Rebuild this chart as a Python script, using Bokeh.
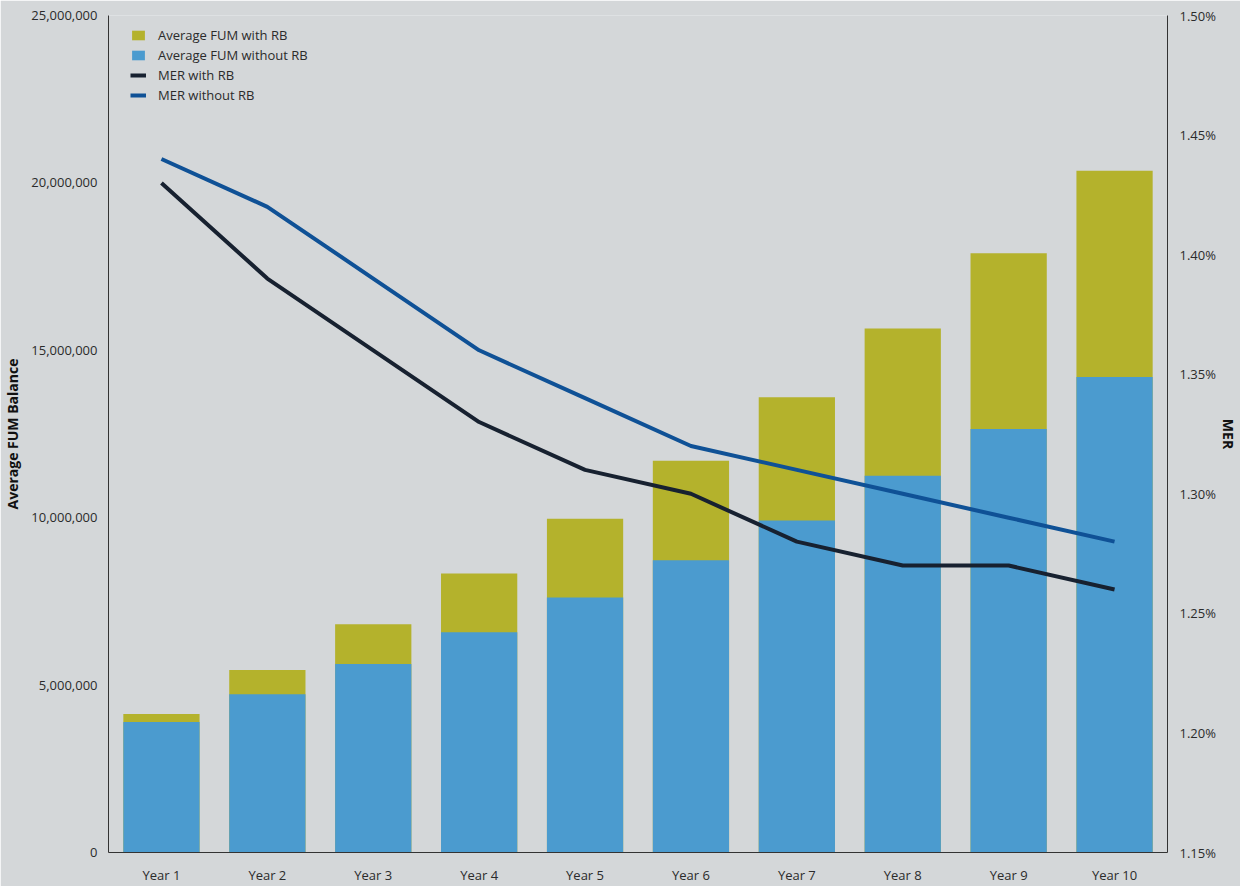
from bokeh.plotting import figure
from bokeh.models import (FactorRange, Range1d, LinearAxis, FixedTicker,
                          NumeralTickFormatter, CustomJSTickFormatter, Legend, LegendItem)
from bokeh.embed import file_html
from bokeh.resources import INLINE

years = ["Year 1", "Year 2", "Year 3", "Year 4", "Year 5",
         "Year 6", "Year 7", "Year 8", "Year 9", "Year 10"]
fum_with_rb = [4140000, 5450000, 6820000, 8330000, 9970000,
               11700000, 13600000, 15650000, 17900000, 20360000]
fum_without_rb = [3900000, 4730000, 5630000, 6580000, 7620000,
                  8730000, 9920000, 11250000, 12650000, 14200000]
mer_with_rb = [1.43, 1.39, 1.36, 1.33, 1.31, 1.30, 1.28, 1.27, 1.27, 1.26]
mer_without_rb = [1.44, 1.42, 1.39, 1.36, 1.34, 1.32, 1.31, 1.30, 1.29, 1.28]
left_ticks = [0, 5000000, 10000000, 15000000, 20000000, 25000000]
right_ticks = [1.15, 1.20, 1.25, 1.30, 1.35, 1.40, 1.45, 1.50]

BG = "#d4d7d9"
YELLOW = "#b4b22c"
BLUE = "#4b9bcf"
LINE_DARK = "#172130"
LINE_BLUE = "#0f5196"
FONT = "Open Sans"
TXT = "#2b2b2b"

p = figure(width=1240, height=886, x_range=FactorRange(*years, range_padding=0),
           y_range=Range1d(0, 25000000), output_backend="svg", toolbar_location=None,
           min_border_left=108, min_border_right=73, min_border_top=15, min_border_bottom=31)
p.background_fill_color = BG
p.border_fill_color = BG
p.outline_line_color = None
p.xgrid.grid_line_color = None
p.ygrid.grid_line_color = None

p.extra_y_ranges = {"mer": Range1d(1.15, 1.50)}

r_y = p.vbar(x=years, top=fum_with_rb, width=0.72, color=YELLOW, line_color=None)
r_b = p.vbar(x=years, top=fum_without_rb, width=0.72, color=BLUE, line_color=None)
r_l1 = p.line(x=years, y=mer_with_rb, y_range_name="mer", line_color=LINE_DARK, line_width=4)
r_l2 = p.line(x=years, y=mer_without_rb, y_range_name="mer", line_color=LINE_BLUE, line_width=4)

# left axis
ya = p.yaxis[0]
ya.ticker = FixedTicker(ticks=left_ticks)
ya.formatter = NumeralTickFormatter(format="0,0")
ya.axis_label = "Average FUM Balance"

# right axis
ra = LinearAxis(y_range_name="mer", ticker=FixedTicker(ticks=right_ticks),
                formatter=CustomJSTickFormatter(code="return tick.toFixed(2) + '%';"),
                axis_label="MER")
p.add_layout(ra, "right")

for ax in [ya, ra, p.xaxis[0]]:
    ax.major_tick_line_color = None
    ax.minor_tick_line_color = None
    ax.axis_line_color = "#333333"
    ax.axis_line_width = 1
    ax.major_label_text_font = FONT
    ax.major_label_text_font_size = "13px"
    ax.major_label_text_color = TXT
    ax.axis_label_text_font = FONT
    ax.axis_label_text_font_style = "bold"
    ax.axis_label_text_font_size = "14px"
    ax.axis_label_text_color = "#111111"
ya.major_label_standoff = 5
ya.axis_label_standoff = 6
ra.major_label_standoff = 6
ra.axis_label_standoff = 0
p.xaxis[0].major_label_standoff = 7

legend = Legend(items=[
    LegendItem(label="Average FUM with RB", renderers=[r_y]),
    LegendItem(label="Average FUM without RB", renderers=[r_b]),
    LegendItem(label="MER with RB", renderers=[r_l1]),
    LegendItem(label="MER without RB", renderers=[r_l2]),
], location=(22, 748))
legend.background_fill_alpha = 0
legend.border_line_color = None
legend.label_text_font = FONT
legend.label_text_font_size = "13px"
legend.label_text_color = TXT
legend.glyph_width = 16
legend.glyph_height = 12
legend.label_height = 16
legend.spacing = 2
legend.label_standoff = 12
legend.padding = 6
legend.margin = 0
p.add_layout(legend)

html = file_html(p, INLINE)
html = html.replace("<body>", '<body style="background-color:%s;">' % BG, 1)
open("out.html", "w").write(html)
